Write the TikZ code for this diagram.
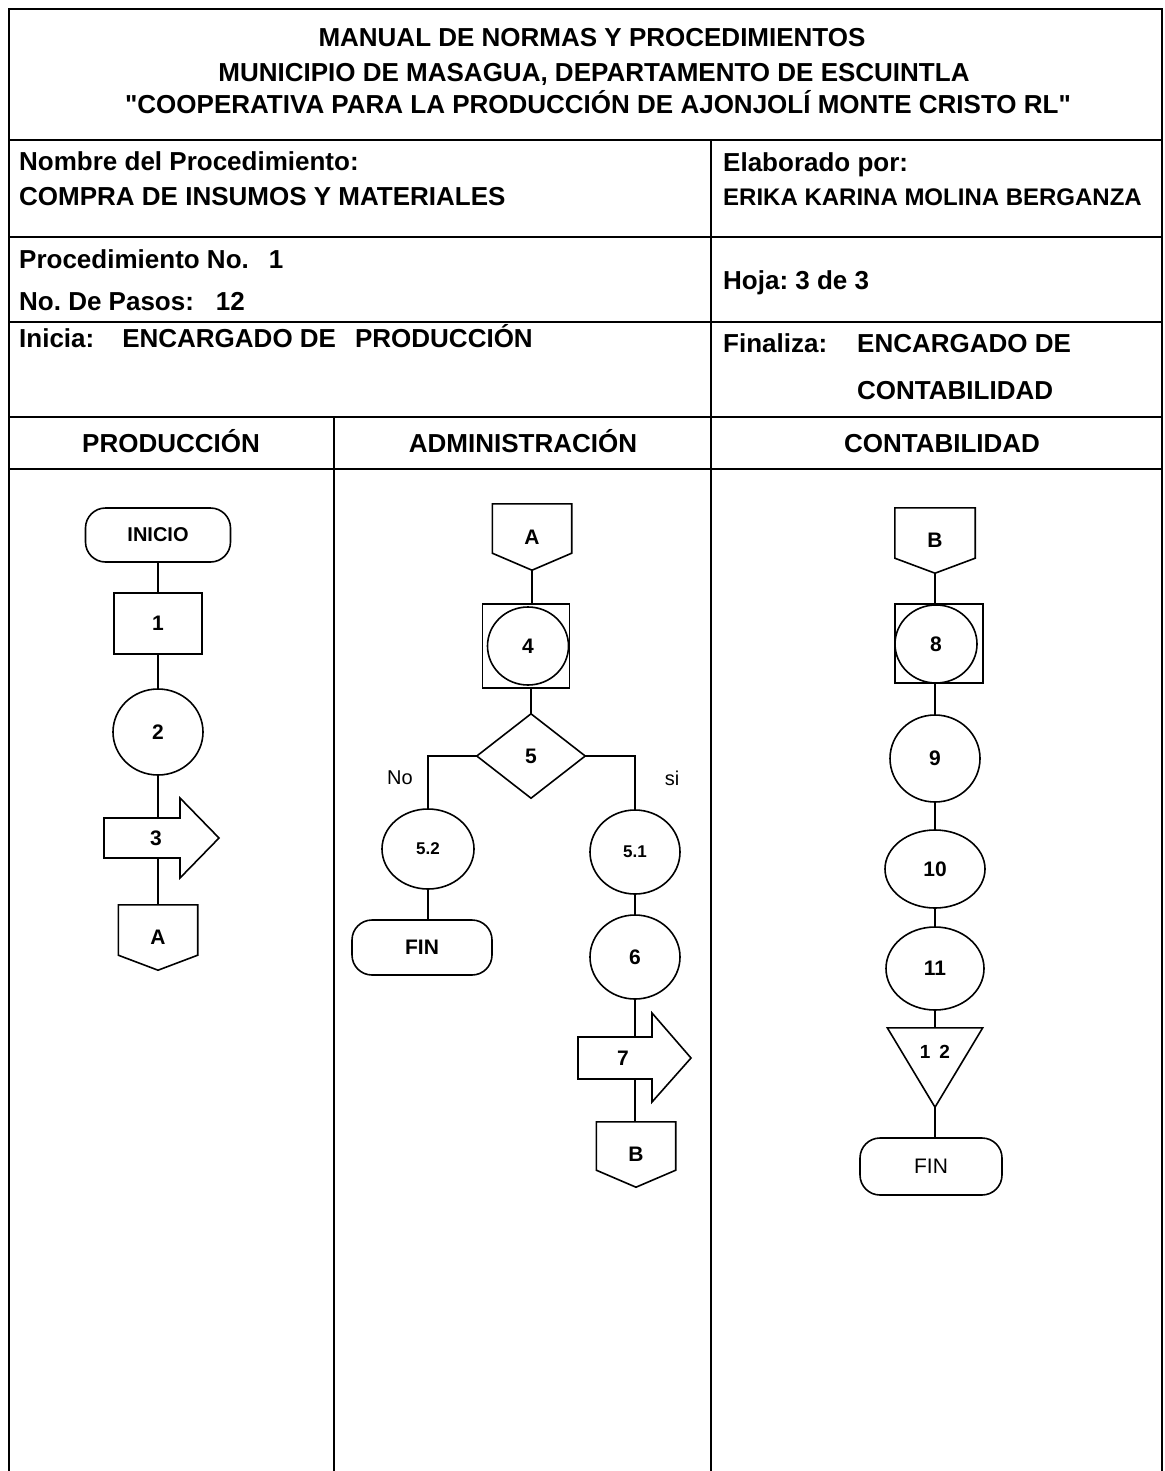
\documentclass[tikz,border=0pt]{standalone}
\usepackage{fontspec}
\setmainfont{Liberation Sans}
\usetikzlibrary{calc,shapes.geometric}
\frenchspacing
% straight double quote, set as a glyph so the TeX ligature mapping leaves it alone
\newcommand{\dq}{\XeTeXglyph\XeTeXcharglyph"0022\relax}

\begin{document}
\begin{tikzpicture}[x=1pt,y=-1pt,
  frame/.style={line width=1.8pt},
  link/.style={line width=1.4pt},
  outline/.style={line width=1.6pt, line join=miter},
  shp/.style={draw, line width=1.6pt, inner sep=0pt},
  big/.style={font=\fontsize{26}{30}\selectfont\bfseries, inner sep=0pt},
  oval/.style={shp, ellipse, font=\fontsize{21}{24}\selectfont\bfseries},
  smalloval/.style={oval, font=\fontsize{17}{20}\selectfont\bfseries},
  terminal/.style={shp, rectangle, rounded corners=20pt, font=\fontsize{21}{24}\selectfont\bfseries},
  opbox/.style={shp, rectangle, font=\fontsize{21}{24}\selectfont\bfseries},
  ghost/.style={rectangle, inner sep=0pt, font=\fontsize{21}{24}\selectfont\bfseries},
  branch/.style={inner sep=0pt, font=\fontsize{20}{24}\selectfont},
]
\useasboundingbox (0,0) rectangle (1164,1471);

% ---- form grid ----
\draw[frame] (9,1471) -- (9,9) -- (1162,9) -- (1162,1471);
\foreach \yy in {140,237,322,417,469} \draw[frame] (9,\yy) -- (1162,\yy);
\draw[frame] (711,140) -- (711,1471);
\draw[frame] (334,417) -- (334,1471);

% ---- heading block ----
\node[big, anchor=base] (h1) at (592,47) {MANUAL DE NORMAS Y PROCEDIMIENTOS};
\node[big, anchor=base] (h2) at (594,82) {MUNICIPIO DE MASAGUA, DEPARTAMENTO DE ESCUINTLA};
\node[big, anchor=base] (h3) at (598,114) {{\bfseries\dq}COOPERATIVA PARA LA PRODUCCIÓN DE AJONJOLÍ MONTE CRISTO RL{\bfseries\dq}};

\node[big, anchor=base west] (nom) at (19,171) {Nombre del Procedimiento:};
\node[big, anchor=base west] (proc) at (19,206) {COMPRA DE INSUMOS Y MATERIALES};
\node[big, anchor=base west] (elab) at (723,172) {Elaborado por:};
\node[inner sep=0pt, font=\fontsize{24}{28}\selectfont\bfseries, anchor=base west] (autor) at (723,206) {ERIKA KARINA MOLINA BERGANZA};
\node[big, anchor=base west] (pno) at (19,268) {Procedimiento No.\hspace{20pt}1};
\node[big, anchor=base west] (pasos) at (19,310) {No. De Pasos:\hspace{22pt}12};
\node[big, anchor=base west] (hoja) at (723,289) {Hoja: 3 de 3};
\node[big, anchor=base west] (inicia) at (19,347) {Inicia:\hspace{28pt}ENCARGADO DE\hspace{19pt}PRODUCCIÓN};
\node[big, anchor=base west] (fin1) at (723,352) {Finaliza:\hspace{30pt}ENCARGADO DE};
\node[big, anchor=base west] (fin2) at (857,399) {CONTABILIDAD};

\node[big, anchor=base] (colp) at (171,452) {PRODUCCIÓN};
\node[big, anchor=base] (cola) at (523,452) {ADMINISTRACIÓN};
\node[big, anchor=base] (colc) at (942,452) {CONTABILIDAD};

% ---- Produccion lane ----
\node[terminal, font=\fontsize{20}{24}\selectfont\bfseries, minimum width=145pt, minimum height=54pt] (ini) at (158,535) {INICIO};
\node[opbox, minimum width=88pt, minimum height=61pt] (p1) at (158,623.5) {1};
\node[oval, minimum width=90pt, minimum height=86pt] (p2) at (158,732) {2};
\node[ghost, minimum width=76pt, minimum height=40pt] (p3) at (156,838) {3};
\draw[outline] ($(p3)+(-52,-20)$) -- ++(76,0) -- ++(0,-20) -- ++(39,40) -- ++(-39,40) -- ++(0,-20) -- ++(-76,0) -- cycle;
\node[ghost, minimum width=79pt, minimum height=65pt] (pA) at (158,937.5) {A};
\draw[outline] (pA.north west) -- (pA.north east) -- ($(pA.south east)+(0,-15)$) -- (pA.south) -- ($(pA.south west)+(0,-15)$) -- cycle;

\draw[link] (ini.south) -- (p1.north);
\draw[link] (p1.south) -- (p2.north);
\draw[link] (p2.south) -- (p2.south |- p3.north);
\draw[link] (p2.south |- p3.south) -- (pA.north);

% ---- Administracion lane ----
\node[ghost, minimum width=79pt, minimum height=66pt] (aA) at (532,537) {A};
\draw[outline] (aA.north west) -- (aA.north east) -- ($(aA.south east)+(0,-17)$) -- (aA.south) -- ($(aA.south west)+(0,-17)$) -- cycle;
\node[opbox, minimum width=87pt, minimum height=84pt] (a4box) at (526,646) {};
\node[oval, minimum width=81pt, minimum height=78pt] (a4) at (528,646) {4};
\node[ghost, minimum width=108pt, minimum height=84pt] (a5) at (531,756) {5};
\draw[outline] (a5.north) -- (a5.east) -- (a5.south) -- (a5.west) -- cycle;
\node[smalloval, minimum width=92pt, minimum height=80pt] (a52) at (428,849) {5.2};
\node[terminal, minimum width=140pt, minimum height=55pt] (afin) at (422,947.5) {FIN};
\node[smalloval, minimum width=90pt, minimum height=84pt] (a51) at (635,852) {5.1};
\node[oval, minimum width=90pt, minimum height=84pt] (a6) at (635,957) {6};
\node[ghost, minimum width=74pt, minimum height=42pt] (a7) at (623,1058) {7};
\draw[outline] ($(a7)+(-45,-21)$) -- ++(74,0) -- ++(0,-24) -- ++(39,45) -- ++(-39,44) -- ++(0,-23) -- ++(-74,0) -- cycle;
\node[ghost, minimum width=79pt, minimum height=65pt] (aB) at (636,1154.5) {B};
\draw[outline] (aB.north west) -- (aB.north east) -- ($(aB.south east)+(0,-17)$) -- (aB.south) -- ($(aB.south west)+(0,-17)$) -- cycle;

\node[branch] (no) at (400,778) {No};
\node[branch] (si) at (672,778) {si};

\draw[link] (aA.south) -- (aA.south |- a4box.north);
\draw[link] (a4box.south -| a5.north) -- (a5.north);
\draw[link] (a5.west) -| (a52.north);
\draw[link] (a5.east) -| (a51.north);
\draw[link] (a52.south) -- (a52.south |- afin.north);
\draw[link] (a51.south) -- (a6.north);
\draw[link] (a6.south) -- (a6.south |- a7.north);
\draw[link] (a6.south |- a7.south) -- (a6.south |- aB.north);

% ---- Contabilidad lane ----
\node[ghost, minimum width=80pt, minimum height=65pt] (cB) at (935,540.5) {B};
\draw[outline] (cB.north west) -- (cB.north east) -- ($(cB.south east)+(0,-15)$) -- (cB.south) -- ($(cB.south west)+(0,-15)$) -- cycle;
\node[opbox, minimum width=88pt, minimum height=79pt] (c8box) at (939,643.5) {};
\node[oval, minimum width=82pt, minimum height=78pt] (c8) at (936,644) {8};
\node[oval, minimum width=90pt, minimum height=87pt] (c9) at (935,758.5) {9};
\node[oval, minimum width=100pt, minimum height=78pt] (c10) at (935,869) {10};
\node[oval, minimum width=98pt, minimum height=83pt] (c11) at (935,968.5) {11};
\node[ghost, font=\fontsize{19}{22}\selectfont\bfseries, minimum width=95pt, minimum height=79pt,
      text height=14pt, text depth=31.4pt] (c12) at (935,1067.5) {1\hspace{9pt}2};
\draw[outline] (c12.north west) -- (c12.north east) -- (c12.south) -- cycle;
\node[terminal, font=\fontsize{21}{24}\selectfont, minimum width=142pt, minimum height=57pt] (cfin) at (931,1166.5) {FIN};

\draw[link] (cB.south) -- (cB.south |- c8box.north);
\draw[link] (c8box.south -| c9.north) -- (c9.north);
\draw[link] (c9.south) -- (c10.north);
\draw[link] (c10.south) -- (c11.north);
\draw[link] (c11.south) -- (c11.south |- c12.north);
\draw[link] (c12.south) -- (c12.south |- cfin.north);
\end{tikzpicture}
\end{document}
